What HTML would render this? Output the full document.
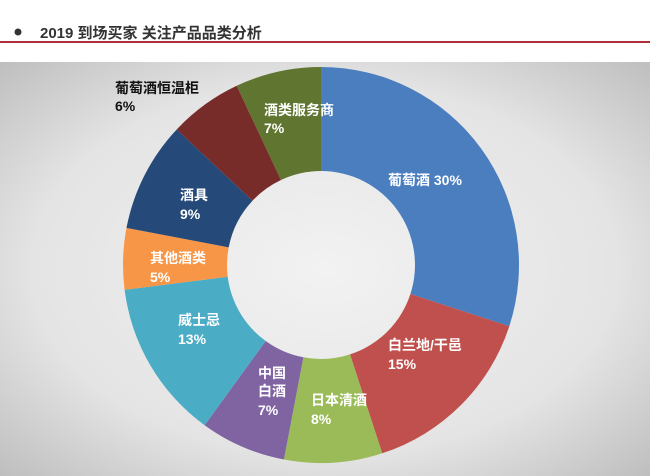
<!DOCTYPE html>
<html><head><meta charset="utf-8"><style>
html,body{margin:0;padding:0;width:650px;height:476px;overflow:hidden;background:#fff}
svg{display:block}
text{font-family:"Liberation Sans","Noto Sans CJK SC",sans-serif;font-size:14px;fill:#fff;font-weight:bold}
</style></head><body>
<svg width="650" height="476" viewBox="0 0 650 476">
<defs>
<radialGradient id="bg" cx="0.5" cy="0.5" r="0.75">
<stop offset="0" stop-color="#f2f2f2"/><stop offset="0.6" stop-color="#e4e4e4"/><stop offset="1" stop-color="#b8b8b8"/>
</radialGradient>
</defs>
<rect x="0" y="0" width="650" height="476" fill="#fff"/>
<rect x="0" y="62" width="650" height="414" fill="url(#bg)"/>
<circle cx="18" cy="32" r="3.5" fill="#333"/>
<text x="40" y="38" style="font-size:15px;fill:#333;font-weight:bold">2019 到场买家 关注产品品类分析</text>
<rect x="0" y="41" width="650" height="2" fill="#b0303a"/>
<g>
<path d="M321,67 A198,198 0 0 1 509.3,326.2 L410.4,294 A94,94 0 0 0 321,171Z" fill="#4a7ebf"/>
<path d="M509.3,326.2 A198,198 0 0 1 382.2,453.3 L350,354.4 A94,94 0 0 0 410.4,294Z" fill="#c0504d"/>
<path d="M382.2,453.3 A198,198 0 0 1 283.9,459.5 L303.4,357.3 A94,94 0 0 0 350,354.4Z" fill="#9bbb59"/>
<path d="M283.9,459.5 A198,198 0 0 1 204.6,425.2 L265.7,341 A94,94 0 0 0 303.4,357.3Z" fill="#8064a2"/>
<path d="M204.6,425.2 A198,198 0 0 1 124.6,289.8 L227.7,276.8 A94,94 0 0 0 265.7,341Z" fill="#4bacc6"/>
<path d="M124.6,289.8 A198,198 0 0 1 126.5,227.9 L228.7,247.4 A94,94 0 0 0 227.7,276.8Z" fill="#f79646"/>
<path d="M126.5,227.9 A198,198 0 0 1 176.7,129.5 L252.5,200.7 A94,94 0 0 0 228.7,247.4Z" fill="#254a7a"/>
<path d="M176.7,129.5 A198,198 0 0 1 236.7,85.8 L281,180 A94,94 0 0 0 252.5,200.7Z" fill="#772c2a"/>
<path d="M236.7,85.8 A198,198 0 0 1 321,67 L321,171 A94,94 0 0 0 281,180Z" fill="#5f7530"/>
</g>
<text x="388" y="185">葡萄酒 30%</text>
<text x="388" y="350">白兰地/干邑</text><text x="388" y="369">15%</text>
<text x="311" y="405">日本清酒</text><text x="311" y="424">8%</text>
<text x="258" y="378">中国</text><text x="258" y="396">白酒</text><text x="258" y="415">7%</text>
<text x="178" y="325">威士忌</text><text x="178" y="344">13%</text>
<text x="150" y="263">其他酒类</text><text x="150" y="282">5%</text>
<text x="180" y="200">酒具</text><text x="180" y="219">9%</text>
<text x="115" y="93" style="fill:#111">葡萄酒恒温柜</text><text x="115" y="111" style="fill:#111">6%</text>
<text x="264" y="115">酒类服务商</text><text x="264" y="133">7%</text>
</svg>
</body></html>
